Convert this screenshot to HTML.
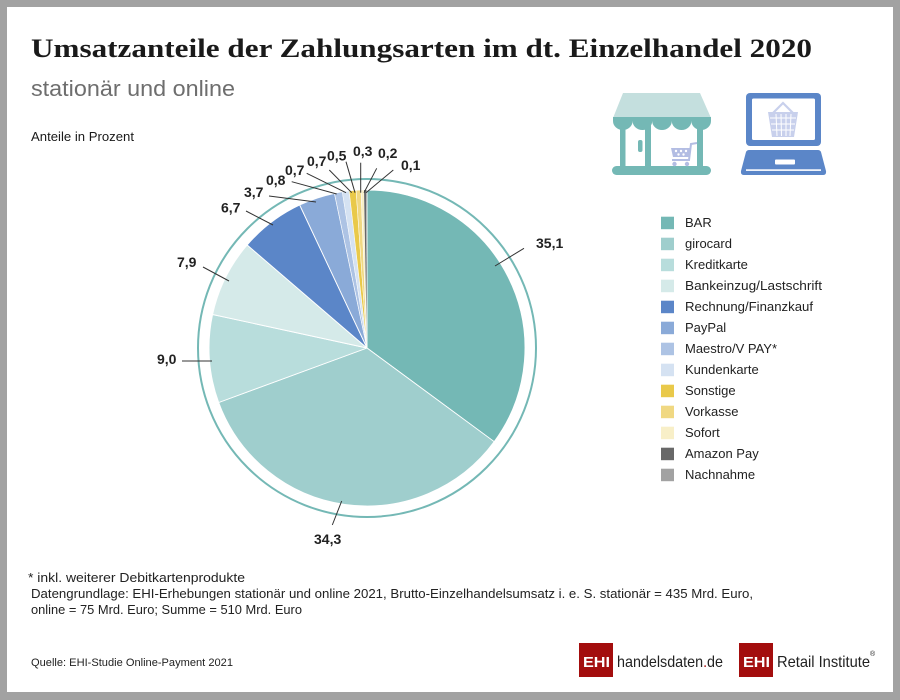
<!DOCTYPE html>
<html><head><meta charset="utf-8">
<style>
html,body{margin:0;padding:0;background:#a2a2a2;}
svg{display:block;}
text{font-family:"Liberation Sans",sans-serif;}
text.serif{font-family:"Liberation Serif",serif;}
</style></head>
<body>
<svg width="900" height="700" viewBox="0 0 900 700" xmlns="http://www.w3.org/2000/svg">
<rect x="0" y="0" width="900" height="700" fill="#a2a2a2"/>
<rect x="7" y="7" width="886" height="685" fill="#ffffff"/>

<!-- Title -->
<text class="serif" x="31" y="57" style="font-family:'Liberation Serif',serif" font-weight="bold" font-size="26" fill="#1a1a1a" textLength="781" lengthAdjust="spacingAndGlyphs">Umsatzanteile der Zahlungsarten im dt. Einzelhandel 2020</text>
<text x="31" y="96" font-size="22" fill="#6e6e6e" textLength="204" lengthAdjust="spacingAndGlyphs">stationär und online</text>
<text x="31" y="141" font-size="13" fill="#1a1a1a" textLength="103" lengthAdjust="spacingAndGlyphs">Anteile in Prozent</text>

<!-- Store icon -->
<polygon points="623,93 700,93 711,118 613,118" fill="#c4dfde"/>
<path d="M613,117 H711 V121 A9.8,9 0 0 1 691.4,121 A9.8,9 0 0 1 671.8,121 A9.8,9 0 0 1 652.2,121 A9.8,9 0 0 1 632.6,121 A9.8,9 0 0 1 613,121 Z" fill="#74b8b5"/>
<rect x="620" y="122" width="5.5" height="46" fill="#74b8b5"/>
<rect x="645" y="122" width="6" height="46" fill="#74b8b5"/>
<rect x="697" y="122" width="6" height="46" fill="#74b8b5"/>
<rect x="638" y="140" width="4.5" height="12" rx="2" fill="#74b8b5"/>
<rect x="612" y="166" width="99" height="9" rx="4.5" fill="#74b8b5"/>
<g fill="none" stroke="#b3bde3" stroke-width="2">
<path d="M697,143 L691,144 L689,160 L672,160"/>
<polygon points="671,148 690,148 689,157 673,157" fill="#b3bde3" stroke="none"/>
</g>
<circle cx="674.5" cy="164" r="2.2" fill="#b3bde3"/>
<circle cx="687" cy="164" r="2.2" fill="#b3bde3"/>
<g fill="#ffffff">
<circle cx="676" cy="151" r="1.2"/><circle cx="681" cy="151" r="1.2"/><circle cx="686" cy="151" r="1.2"/>
<circle cx="678.5" cy="154.5" r="1.2"/><circle cx="683.5" cy="154.5" r="1.2"/>
</g>

<!-- Laptop icon -->
<rect x="746" y="93" width="75" height="53" rx="4" fill="#5b86c8"/>
<rect x="752" y="98.5" width="63" height="41.5" rx="1.5" fill="#ffffff"/>
<path d="M773,113 L783,103 L793,113" fill="none" stroke="#c8d0ec" stroke-width="2.2"/>
<polygon points="768,112 798,112 794,137 772,137" fill="#c8d0ec"/>
<g stroke="#ffffff" stroke-width="1">
<line x1="770" y1="118" x2="796" y2="118"/><line x1="771" y1="124" x2="795" y2="124"/><line x1="772" y1="130" x2="794" y2="130"/>
<line x1="776" y1="114" x2="777" y2="136"/><line x1="781" y1="114" x2="781.5" y2="136"/><line x1="786" y1="114" x2="786" y2="136"/><line x1="791" y1="114" x2="790" y2="136"/>
</g>
<path d="M749,150 H818 Q820,150 821,152 L826,171 Q826.5,175 823,175 H744 Q740.5,175 741,171 L746,152 Q747,150 749,150 Z" fill="#5b86c8"/>
<rect x="775" y="159.5" width="20" height="5" rx="1" fill="#ffffff"/>
<rect x="746" y="169.3" width="75" height="1.6" fill="#ffffff"/>

<!-- Pie -->
<circle cx="367" cy="348" r="169" fill="none" stroke="#74b8b5" stroke-width="2"/>
<g stroke="#ffffff" stroke-width="0.9" stroke-linejoin="round">
<path d="M367,348 L367,190 A158,158 0 0 1 494.2,441.7 Z" fill="#74b8b5"/>
<path d="M367,348 L494.2,441.7 A158,158 0 0 1 218.7,402.5 Z" fill="#9fcecd"/>
<path d="M367,348 L218.7,402.5 A158,158 0 0 1 212.6,314.5 Z" fill="#b8dddc"/>
<path d="M367,348 L212.6,314.5 A158,158 0 0 1 247.2,245.0 Z" fill="#d5eae9"/>
<path d="M367,348 L247.2,245.0 A158,158 0 0 1 299.7,205.0 Z" fill="#5b86c8"/>
<path d="M367,348 L299.7,205.0 A158,158 0 0 1 334.5,193.4 Z" fill="#8aaad8"/>
</g>
<g stroke="#ffffff" stroke-width="0.5" stroke-linejoin="round">
<path d="M367,348 L334.5,193.4 A158,158 0 0 1 342.3,191.9 Z" fill="#adc3e4"/>
<path d="M367,348 L342.3,191.9 A158,158 0 0 1 349.2,191.0 Z" fill="#d5e2f2"/>
<path d="M367,348 L349.2,191.0 A158,158 0 0 1 356.1,190.4 Z" fill="#e9c94a"/>
<path d="M367,348 L356.1,190.4 A158,158 0 0 1 361.0,190.1 Z" fill="#f0d882"/>
<path d="M367,348 L361.0,190.1 A158,158 0 0 1 364.0,190.03 Z" fill="#f8efc8"/>
</g>
<path d="M367,348 L364.0,190.03 A158,158 0 0 1 366.0,190.0 Z" fill="#686868"/>
<path d="M367,348 L366.0,190.0 A158,158 0 0 1 367,190 Z" fill="#a2a2a2"/>
<line x1="367" y1="190" x2="367" y2="348" stroke="#ffffff" stroke-width="0.4"/>

<!-- Leader lines -->
<g stroke="#333333" stroke-width="1" fill="none">
<line x1="524" y1="248.3" x2="495" y2="266"/>
<line x1="341.7" y1="501" x2="332.3" y2="525"/>
<line x1="182" y1="361" x2="212" y2="361"/>
<line x1="203" y1="267" x2="229" y2="281"/>
<line x1="246" y1="211" x2="273" y2="225"/>
<line x1="269" y1="196" x2="316" y2="202"/>
<line x1="291.7" y1="181.7" x2="336.7" y2="194"/>
<line x1="306.7" y1="173.3" x2="346" y2="192.7"/>
<line x1="329.3" y1="170" x2="351.7" y2="192.7"/>
<line x1="346" y1="161.7" x2="355" y2="192.7"/>
<line x1="360.7" y1="162.7" x2="360.7" y2="192.7"/>
<line x1="376.7" y1="168.3" x2="364" y2="192.7"/>
<line x1="393.3" y1="170" x2="366" y2="192.7"/>
</g>

<!-- Pie labels -->
<g font-size="14" font-weight="bold" fill="#222222">
<text x="536" y="248">35,1</text>
<text x="314" y="544">34,3</text>
<text x="157" y="364">9,0</text>
<text x="177" y="267">7,9</text>
<text x="221" y="212.5">6,7</text>
<text x="244" y="197">3,7</text>
<text x="266" y="185">0,8</text>
<text x="285" y="175">0,7</text>
<text x="307" y="166">0,7</text>
<text x="327" y="160.7">0,5</text>
<text x="353" y="156">0,3</text>
<text x="378" y="158">0,2</text>
<text x="401" y="170">0,1</text>
</g>

<!-- Legend -->
<g>
<rect x="661" y="216.7" width="13" height="12.5" fill="#74b8b5"/>
<rect x="661" y="237.7" width="13" height="12.5" fill="#9fcecd"/>
<rect x="661" y="258.7" width="13" height="12.5" fill="#b8dddc"/>
<rect x="661" y="279.7" width="13" height="12.5" fill="#d5eae9"/>
<rect x="661" y="300.7" width="13" height="12.5" fill="#5b86c8"/>
<rect x="661" y="321.7" width="13" height="12.5" fill="#8aaad8"/>
<rect x="661" y="342.7" width="13" height="12.5" fill="#adc3e4"/>
<rect x="661" y="363.7" width="13" height="12.5" fill="#d5e2f2"/>
<rect x="661" y="384.7" width="13" height="12.5" fill="#e9c94a"/>
<rect x="661" y="405.7" width="13" height="12.5" fill="#f0d882"/>
<rect x="661" y="426.7" width="13" height="12.5" fill="#f8efc8"/>
<rect x="661" y="447.7" width="13" height="12.5" fill="#686868"/>
<rect x="661" y="468.7" width="13" height="12.5" fill="#a2a2a2"/>
</g>
<g font-size="13" fill="#222222">
<text x="685" y="227">BAR</text>
<text x="685" y="248">girocard</text>
<text x="685" y="269">Kreditkarte</text>
<text x="685" y="290" textLength="137" lengthAdjust="spacingAndGlyphs">Bankeinzug/Lastschrift</text>
<text x="685" y="311" textLength="128" lengthAdjust="spacingAndGlyphs">Rechnung/Finanzkauf</text>
<text x="685" y="332">PayPal</text>
<text x="685" y="353">Maestro/V PAY*</text>
<text x="685" y="374">Kundenkarte</text>
<text x="685" y="395">Sonstige</text>
<text x="685" y="416">Vorkasse</text>
<text x="685" y="437">Sofort</text>
<text x="685" y="458">Amazon Pay</text>
<text x="685" y="479">Nachnahme</text>
</g>

<!-- Footnotes -->
<g font-size="13" fill="#222222">
<text x="28" y="582" textLength="217" lengthAdjust="spacingAndGlyphs">* inkl. weiterer Debitkartenprodukte</text>
<text x="31" y="598" textLength="722" lengthAdjust="spacingAndGlyphs">Datengrundlage: EHI-Erhebungen stationär und online 2021, Brutto-Einzelhandelsumsatz i. e. S. stationär = 435 Mrd. Euro,</text>
<text x="31" y="614" textLength="271" lengthAdjust="spacingAndGlyphs">online = 75 Mrd. Euro; Summe = 510 Mrd. Euro</text>
</g>
<text x="31" y="666" font-size="11" fill="#222222" textLength="202" lengthAdjust="spacingAndGlyphs">Quelle: EHI-Studie Online-Payment 2021</text>

<!-- Logos -->
<rect x="579" y="643" width="34" height="34" fill="#a30d0d"/>
<text x="583" y="667" font-size="15" font-weight="bold" fill="#ffffff" textLength="27" lengthAdjust="spacingAndGlyphs">EHI</text>
<text x="617" y="667" font-size="16" fill="#222222" textLength="106" lengthAdjust="spacingAndGlyphs">handelsdaten<tspan fill="#a30d0d">.</tspan>de</text>
<rect x="739" y="643" width="34" height="34" fill="#a30d0d"/>
<text x="743" y="667" font-size="15" font-weight="bold" fill="#ffffff" textLength="27" lengthAdjust="spacingAndGlyphs">EHI</text>
<text x="777" y="667" font-size="16" fill="#222222" textLength="93" lengthAdjust="spacingAndGlyphs">Retail Institute</text>
<text x="870" y="656" font-size="7" fill="#222222">®</text>
</svg>
</body></html>
